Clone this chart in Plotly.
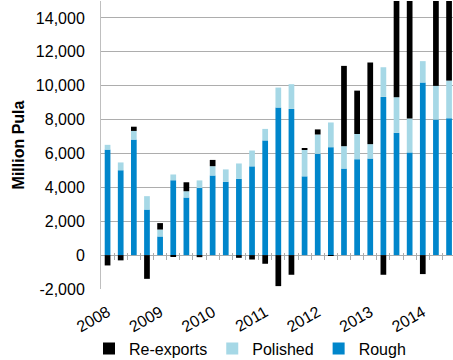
import plotly.graph_objects as go

# Quarterly categories 2008Q1 .. 2014Q3
quarters = [f"{y}Q{q}" for y in range(2008, 2015) for q in range(1, 5)][:27]
year_labels = ["2008", "2009", "2010", "2011", "2012", "2013", "2014"]
year_positions = [0, 4, 8, 12, 16, 20, 24]

rough = [6230, 5010, 6820, 2690, 1100, 4420, 3400, 3960, 4700, 4330, 4500, 5240,
         6770, 8710, 8630, 4650, 5980, 6370, 5110, 5660, 5700, 9340, 7220, 6060,
         10190, 8000, 8080]
polished = [280, 460, 510, 790, 410, 340, 370, 450, 550, 730, 910, 935,
            680, 1180, 1460, 1565, 1140, 1460, 1320, 1490, 850, 1750, 2100, 2000,
            1260, 1990, 2220]
re_exports = [-610, -310, 250, -1400, 380, -60, 530, -120, 370, 0, -160, -260,
              -510, -1830, -1160, 80, 300, -40, 4740, 2560, 4820, -1160, 7000, 8500,
              -1120, 7500, 6500]

y_ticks = list(range(-2000, 14001, 2000))
y_tick_text = ["-2,000", "0", "2,000", "4,000", "6,000", "8,000", "10,000",
               "12,000", "14,000"]

x = list(range(len(quarters)))
FONT = "Liberation Sans, Arial, sans-serif"
GRID = "#ADADAD"

fig = go.Figure()
fig.add_trace(go.Bar(x=x, y=rough, name="Rough", marker_color="#0086CB",
                     marker_line_width=0))
fig.add_trace(go.Bar(x=x, y=polished, name="Polished", marker_color="#A6D8E6",
                     marker_line_width=0))
fig.add_trace(go.Bar(x=x, y=re_exports, name="Re-exports", marker_color="#000000",
                     marker_line_width=0))

yr = [-2000, 15000]
zero_frac = (0 - yr[0]) / (yr[1] - yr[0])
plot_h = 360 - 1 - 71

fig.update_layout(
    width=453, height=360,
    margin=dict(l=101, r=0, t=1, b=71, autoexpand=False),
    barmode="relative",
    bargap=0.565,
    plot_bgcolor="white", paper_bgcolor="white",
    font=dict(family=FONT, size=16, color="black"),
    showlegend=True,
    legend=dict(orientation="h", traceorder="reversed",
                xref="container", x=89 / 453, xanchor="left",
                yref="container", y=(360 - 348.5) / 360, yanchor="middle",
                font=dict(size=16), bgcolor="rgba(0,0,0,0)"),
    xaxis=dict(range=[-0.5, 26.3], tickmode="array", tickvals=year_positions,
               ticktext=year_labels, tickangle=-30, ticks="", showgrid=False,
               zeroline=False, showline=False, tickfont=dict(size=16),
               ticklabelstandoff=10),
    xaxis2=dict(range=[-0.5, 26.3], overlaying="x", anchor="free",
                position=zero_frac + 3.5 / plot_h, side="bottom",
                tickmode="array", tickvals=[i + 0.5 for i in range(26)],
                ticks="outside", ticklen=7, tickcolor=GRID, tickwidth=1,
                showticklabels=False, showgrid=False, zeroline=False, showline=False),
    yaxis=dict(range=yr, tickmode="array", tickvals=y_ticks, ticktext=y_tick_text,
               showgrid=True, gridcolor=GRID, gridwidth=1,
               zeroline=True, zerolinecolor=GRID, zerolinewidth=1,
               showline=True, linecolor="#BFBFBF", linewidth=1,
               ticks="", ticklabelstandoff=12, tickfont=dict(size=16),
               title=dict(text="<b>Million Pula</b>", font=dict(size=16), standoff=7)),
)
# invisible helper trace so xaxis2 is drawn
fig.add_trace(go.Scatter(x=[0], y=[0], xaxis="x2", mode="markers",
                         marker=dict(opacity=0), showlegend=False, hoverinfo="skip"))

fig.write_html("out.html")
